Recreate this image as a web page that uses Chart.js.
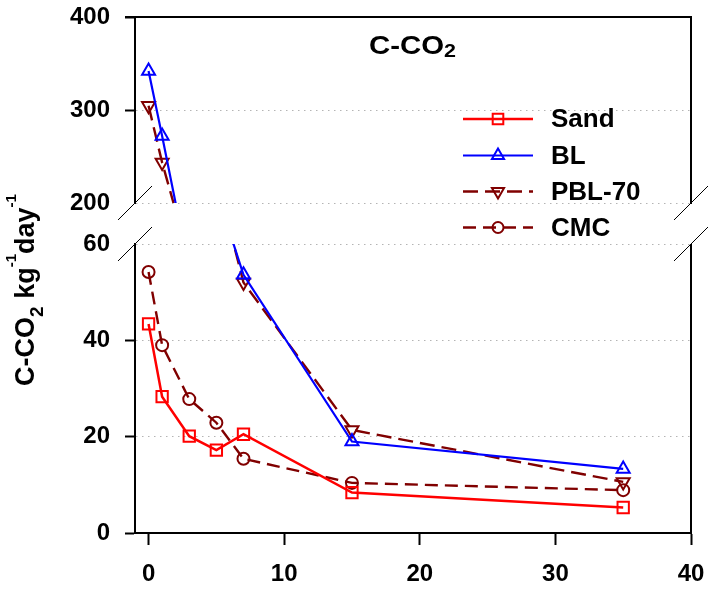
<!DOCTYPE html>
<html><head><meta charset="utf-8">
<script src="https://cdn.jsdelivr.net/npm/chart.js@4.4.1/dist/chart.umd.min.js"></script>
<style>
html,body{margin:0;padding:0;background:#fff;}
#wrap{position:relative;width:708px;height:597px;}
#wrap canvas{position:absolute;left:0;top:0;}
</style></head><body>
<div id="wrap"><canvas id="upper" width="708" height="597"></canvas><canvas id="lower" width="708" height="597"></canvas></div>
<script>
// ---- data ----
const days = [0, 1, 3, 5, 7, 15, 35];
const sand = [43.4, 28.3, 20.1, 17.2, 20.5, 8.4, 5.3];
const bl = [342, 272, 127, 71, 53.6, 19.0, 13.3];
const pbl70 = [304.5, 243.5, 140, 74, 52.0, 21.4, 10.6];
const cmc = [54.2, 39.0, 27.8, 22.9, 15.4, 10.4, 8.9];
const seriesNames = ['Sand', 'BL', 'PBL-70', 'CMC'];
const xTicks = [0, 10, 20, 30, 40];
const yTicksLow = [0, 20, 40, 60];
const yTicksHigh = [200, 300, 400];
const titleParts = [['C-CO', 'n'], ['2', 'sub']];
const yTitleParts = [['C-CO', 'n'], ['2', 'sub'], [' kg', 'n'], ['-1', 'sup'], ['day', 'n'], ['-1', 'sup']];

// ---- styles ----
const FAM = "'Liberation Sans', Arial, Helvetica, sans-serif";
const MAROON = '#800000';
const styles = [
  {color: '#ff0000', dash: [], pointStyle: 'rect', rotation: 0, radius: 8, width: 2.5},
  {color: '#0000ff', dash: [], pointStyle: 'triangle', rotation: 0, radius: 7.5, width: 2.2},
  {color: MAROON, dash: [15, 7], pointStyle: 'triangle', rotation: 180, radius: 7.5, width: 2.4},
  {color: MAROON, dash: [13, 7], pointStyle: 'circle', rotation: 0, radius: 6, width: 2.4}
];
const seriesValues = [sand, bl, pbl70, cmc];
const MARKER_W = 2;

function makeDatasets() {
  return seriesValues.map((vals, i) => {
    const s = styles[i];
    return {
      label: seriesNames[i],
      data: days.map((d, j) => ({x: d, y: vals[j]})),
      borderColor: s.color, borderWidth: s.width, borderDash: s.dash,
      pointStyle: s.pointStyle, pointRotation: s.rotation, pointRadius: s.radius,
      pointBorderColor: s.color, pointBorderWidth: MARKER_W,
      pointBackgroundColor: 'rgba(0,0,0,0)', tension: 0, fill: false
    };
  });
}

const tickFont = {family: FAM, size: 24, weight: 'bold'};
const GRID = '#b4b4b4';

function makeOptions(isLower, yMin, yMax, yTicks, padding, hiddenGrid, hiddenTick) {
  return {
    responsive: false, animation: false, devicePixelRatio: 1,
    layout: {padding: padding},
    plugins: {legend: {display: false}, tooltip: {enabled: false}, frame: {top: !isLower}},
    scales: {
      x: {
        type: 'linear', min: -1, max: 40, display: isLower,
        afterBuildTicks: s => { s.ticks = xTicks.map(v => ({value: v})); },
        afterFit: s => { s.height = isLower ? 64 : 0; s.paddingLeft = 0; s.paddingRight = 0; s.paddingTop = 0; s.paddingBottom = 0; },
        grid: {drawOnChartArea: false, drawTicks: true, tickLength: 12, tickColor: '#000', tickWidth: 2},
        border: {display: true, color: '#000', width: 2},
        ticks: {color: '#000', padding: 15, font: tickFont, maxRotation: 0, autoSkip: false}
      },
      y: {
        type: 'linear', min: yMin, max: yMax,
        afterBuildTicks: s => { s.ticks = yTicks.map(v => ({value: v})); },
        afterFit: s => { s.width = 135; s.paddingTop = 0; s.paddingBottom = 0; s.paddingLeft = 0; s.paddingRight = 0; },
        grid: {
          color: c => (c.tick && c.tick.value === hiddenGrid) ? 'rgba(0,0,0,0)' : GRID,
          lineWidth: 1, drawTicks: true, tickLength: 10,
          tickColor: c => (c.tick && c.tick.value === hiddenTick) ? 'rgba(0,0,0,0)' : '#000',
          tickWidth: 2, tickBorderDash: []
        },
        border: {display: true, color: '#000', width: 2, dash: [1.5, 4.5]},
        ticks: {color: '#000', padding: 15, font: tickFont, autoSkip: false}
      }
    }
  };
}

const framePlugin = {
  id: 'frame',
  afterDraw(chart, args, opts) {
    const {ctx, chartArea: a} = chart;
    ctx.save();
    ctx.strokeStyle = '#000'; ctx.lineWidth = 2;
    ctx.beginPath();
    ctx.moveTo(a.right, a.top - (opts.top ? 1 : 0)); ctx.lineTo(a.right, a.bottom + 1);
    if (opts.top) { ctx.moveTo(a.left - 10, a.top); ctx.lineTo(a.right + 1, a.top); }
    ctx.stroke();
    ctx.restore();
  }
};

const upperChart = new Chart(document.getElementById('upper'), {
  type: 'line',
  data: {datasets: makeDatasets()},
  options: makeOptions(false, 200, 400, yTicksHigh, {top: 17, right: 17, bottom: 394, left: 0}, 400, 200),
  plugins: [framePlugin]
});

function drawParts(ctx, parts, x0, y0, sizes) {
  let x = x0;
  parts.forEach(([t, k]) => {
    const sz = sizes[k];
    ctx.font = 'bold ' + sz.size + 'px ' + FAM;
    ctx.fillText(t, x, y0 + sz.dy);
    x += ctx.measureText(t).width;
  });
  return x - x0;
}
function measureParts(ctx, parts, sizes) {
  let w = 0;
  parts.forEach(([t, k]) => { ctx.font = 'bold ' + sizes[k].size + 'px ' + FAM; w += ctx.measureText(t).width; });
  return w;
}

const decorPlugin = {
  id: 'decor',
  afterDraw(chart) {
    const ctx = chart.ctx;
    const a = chart.chartArea;
    const ua = upperChart.chartArea;
    ctx.save();
    ctx.fillStyle = '#000';
    ctx.textBaseline = 'alphabetic';
    ctx.textAlign = 'left';
    // title
    ctx.save();
    ctx.translate(369, 53.5);
    ctx.scale(1.13, 1);
    drawParts(ctx, titleParts, 0, 0, {n: {size: 26, dy: 0}, sub: {size: 19, dy: 3.5}});
    ctx.restore();
    // y-axis title
    const ySizes = {n: {size: 27, dy: 0}, sub: {size: 19, dy: 9}, sup: {size: 15, dy: -18}};
    ctx.save();
    ctx.translate(34, 290);
    ctx.rotate(-Math.PI / 2);
    const tw = measureParts(ctx, yTitleParts, ySizes);
    drawParts(ctx, yTitleParts, -tw / 2, 0, ySizes);
    ctx.restore();
    // legend
    const rowY = [119, 155.5, 191.5, 227.5];
    seriesNames.forEach((name, i) => {
      const s = styles[i];
      const y = rowY[i];
      ctx.save();
      ctx.strokeStyle = s.color; ctx.lineWidth = s.width;
      ctx.setLineDash(s.dash);
      ctx.beginPath(); ctx.moveTo(463, y); ctx.lineTo(533, y); ctx.stroke();
      ctx.setLineDash([]);
      ctx.lineWidth = MARKER_W;
      ctx.fillStyle = 'rgba(0,0,0,0)';
      Chart.helpers.drawPoint(ctx, {pointStyle: s.pointStyle, rotation: s.rotation, radius: s.radius - 0.5, borderWidth: MARKER_W}, 498, y);
      ctx.restore();
      ctx.fillStyle = '#000';
      ctx.font = 'bold 26px ' + FAM;
      ctx.textBaseline = 'middle';
      ctx.fillText(name, 551, y + 1);
    });
    // axis break marks
    ctx.strokeStyle = '#000'; ctx.lineWidth = 1;
    ctx.setLineDash([]);
    [[ua.left, ua.bottom], [ua.right, ua.bottom], [a.left, a.top], [a.right, a.top]].forEach(([x, y]) => {
      ctx.beginPath(); ctx.moveTo(x - 17, y + 17); ctx.lineTo(x + 17, y - 17); ctx.stroke();
    });
    ctx.restore();
  }
};

const lowerChart = new Chart(document.getElementById('lower'), {
  type: 'line',
  data: {datasets: makeDatasets()},
  options: makeOptions(true, 0, 60, yTicksLow, {top: 244, right: 17, bottom: 0, left: 0}, 0, 60),
  plugins: [framePlugin, decorPlugin]
});
</script>
</body></html>
